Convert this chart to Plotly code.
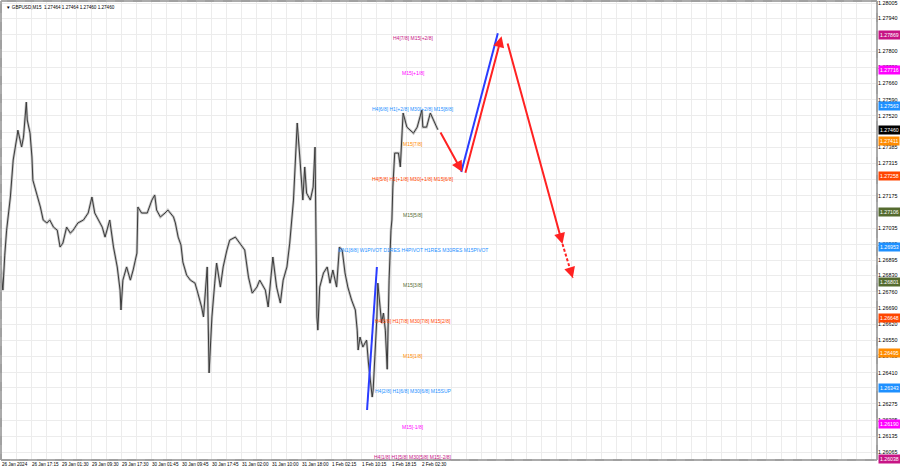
import plotly.graph_objects as go

# ---------------- data ----------------
bar_index = [0, 3, 5, 7, 11, 14, 18, 19, 23, 25, 28, 29, 32, 34, 35, 39, 43, 46, 50, 53,
             57, 61, 64, 67, 71, 75, 78, 83, 89, 94, 98, 101, 105, 109, 112, 117, 121, 125, 128, 129,
             131, 135, 139, 142, 146, 147, 151, 157, 162, 165, 167, 171, 176, 179, 185, 187, 190, 193, 195, 199,
             203, 208, 211, 215, 217, 221, 223, 226, 229, 231, 235, 238, 242, 245, 251, 256, 261, 265, 269, 274,
             277, 283, 286, 291, 295, 299, 302, 306, 309, 313, 316, 317, 320, 323, 325, 327, 331, 334, 336, 337,
             338, 339, 341, 345, 349, 352, 355, 359, 362, 365, 368, 371, 375, 379, 381, 382, 384, 387, 391, 393,
             395, 397, 398, 402, 403, 405, 407, 409, 411, 413, 414, 415, 417, 418, 419, 421, 425, 427, 429, 430,
             434, 437, 441, 445, 448, 450, 451, 455, 459, 461, 464, 467]
close_price = [1.26888, 1.26767, 1.26918, 1.27026, 1.27169, 1.27329, 1.27428, 1.27458, 1.27385, 1.27428,
               1.27579, 1.27502, 1.27445, 1.27342, 1.27242, 1.27186, 1.27126, 1.27070, 1.27057, 1.27070,
               1.27039, 1.27026, 1.26953, 1.26970, 1.27039, 1.27013, 1.27026, 1.27057, 1.27070, 1.27100,
               1.27169, 1.27100, 1.27070, 1.27039, 1.26996, 1.27070, 1.26953, 1.26867, 1.26767, 1.26681,
               1.26810, 1.26867, 1.26810, 1.26854, 1.26927, 1.27126, 1.27100, 1.27100, 1.27156, 1.27178,
               1.27113, 1.27083, 1.27100, 1.27113, 1.27083, 1.27057, 1.26996, 1.26962, 1.26888, 1.26832,
               1.26810, 1.26797, 1.26754, 1.26694, 1.26651, 1.26867, 1.26409, 1.26651, 1.26797, 1.26884,
               1.26780, 1.26867, 1.26940, 1.26983, 1.26996, 1.26970, 1.26940, 1.26823, 1.26754, 1.26780,
               1.26810, 1.26767, 1.26694, 1.26910, 1.26780, 1.26711, 1.26810, 1.26867, 1.26970, 1.27156,
               1.27402, 1.27489, 1.27329, 1.27156, 1.27299, 1.27186, 1.27156, 1.27212, 1.27385, 1.27013,
               1.26651, 1.26594, 1.26780, 1.26841, 1.26867, 1.26797, 1.26854, 1.26780, 1.26953, 1.26940,
               1.26841, 1.26780, 1.26724, 1.26681, 1.26594, 1.26508, 1.26564, 1.26521, 1.26551, 1.26452,
               1.26365, 1.26305, 1.26335, 1.26651, 1.26797, 1.26711, 1.26625, 1.26668, 1.26594, 1.26425,
               1.26651, 1.26810, 1.27026, 1.27070, 1.27212, 1.27359, 1.27359, 1.27299, 1.27458, 1.27532,
               1.27471, 1.27458, 1.27445, 1.27471, 1.27515, 1.27545, 1.27471, 1.27471, 1.27532, 1.27515,
               1.27489, 1.27460]

time_tick_pos = [2, 18, 34, 50, 66, 82, 98, 114, 130, 146, 162, 178, 194, 210, 226, 242, 258, 274,
                 290, 306, 322, 338, 354, 370, 386, 402, 418, 434, 450, 466, 482, 498, 514, 530, 546,
                 562, 578, 594, 610, 626, 642, 658, 674, 690, 706, 722, 738, 754, 770, 786, 802, 818,
                 834, 850, 866, 882, 898, 914, 930]
time_tick_text = ["26 Jan 2024", "", "26 Jan 17:15", "", "29 Jan 01:30", "", "29 Jan 09:30", "",
                  "29 Jan 17:30", "", "30 Jan 01:45", "", "30 Jan 09:45", "", "30 Jan 17:45", "",
                  "31 Jan 02:00", "", "31 Jan 10:00", "", "31 Jan 18:00", "", "1 Feb 02:15", "",
                  "1 Feb 10:15", "", "1 Feb 18:15", "", "2 Feb 02:30"] + [""] * 30

price_ticks = [1.28005, 1.27940, 1.27870, 1.27800, 1.27730, 1.27660, 1.27590, 1.27520, 1.27450,
               1.27385, 1.27315, 1.27245, 1.27175, 1.27105, 1.27035, 1.26965, 1.26895, 1.26830,
               1.26760, 1.26690, 1.26620, 1.26550, 1.26480, 1.26410, 1.26345, 1.26275, 1.26205,
               1.26135, 1.26065]
price_tick_text = ["1.28005", "1.27940", "", "1.27800", "1.27730", "1.27660", "1.27590", "1.27520", "",
                   "1.27385", "1.27315", "", "1.27175", "", "1.27035", "1.26965", "1.26895", "1.26830",
                   "1.26760", "1.26690", "1.26620", "1.26550", "1.26480", "1.26410", "", "1.26275",
                   "1.26205", "1.26135", "1.26065"]

level_price = [1.27869, 1.27716, 1.27563, 1.27411, 1.27258, 1.27106, 1.26953,
               1.26801, 1.26648, 1.26495, 1.26343, 1.26190, 1.26038]
level_box_text = ["1.27869", "1.27716", "1.27563", "1.27411", "1.27258", "1.27106", "1.26953",
                  "1.26801", "1.26648", "1.26495", "1.26343", "1.26190", "1.26038"]
level_label = ["H4[7/8] M15[+2/8]", "M15[+1/8]", "H4[6/8] H1[+2/8] M30[+2/8] M15[8/8]",
               "M15[7/8]", "H4[5/8] H1[+1/8] M30[+1/8] M15[6/8]", "M15[5/8]",
               "MN1[8/8] W1PIVOT D1RES H4PIVOT H1RES M30RES M15PIVOT",
               "M15[3/8]", "H4[3/8] H1[7/8] M30[7/8] M15[2/8]", "M15[1/8]",
               "H4[2/8] H1[6/8] M30[6/8] M15SUP", "M15[-1/8]",
               "H4[1/8] H1[5/8] M30[5/8] M15[-2/8]"]
level_kind = ["pp", "mg", "bl", "or", "rd", "ol", "piv", "ol", "rd", "or", "bl", "mg", "pp"]

current_price = 1.27460
header_text = "GBPUSD,M15  1.27464 1.27464 1.27460 1.27460"

blue1_bars, blue1_prices = [391.5, 402], [1.26249, 1.26867]
red1_bars, red1_prices = [469, 493], [1.27454, 1.27277]
blue2_bars, blue2_prices = [492, 531], [1.27277, 1.27877]
red2_bars, red2_prices = [496, 535], [1.27268, 1.27864]
red3_bars, red3_prices = [541, 600], [1.27839, 1.26966]
red4_bars, red4_prices = [600, 611], [1.26966, 1.26819]

# ---------------- styles ----------------
STYLE = {
    "pp": dict(line="#e8a6cf", dash="dash", width=1, box="#c71585", text="#c71585"),
    "mg": dict(line="#f6a6f6", dash="solid", width=1, box="#ff00ff", text="#ff00ff"),
    "bl": dict(line="#a9d2f7", dash="dash", width=1, box="#1e90ff", text="#1e90ff"),
    "or": dict(line="#fbd9ad", dash="dash", width=1, box="#ff8c00", text="#ff8c00"),
    "rd": dict(line="#f8b4a0", dash="dash", width=1, box="#ff4500", text="#ff4500"),
    "ol": dict(line="#cfcfbf", dash="dash", width=1, box="#556b2f", text="#556b2f"),
    "piv": dict(line="#8dc5f8", dash="solid", width=2, box="#1e90ff", text="#1e90ff"),
}
FONT = "Liberation Sans, Arial, sans-serif"
LABEL_X = 441
RED = "#ff2222"
BLUE = "#2a3cff"
Y_RANGE = [1.26033, 1.28016]
LBL = 5.0   # in-chart level label size
AX = 5.4    # axis label size
BOX = 5.2   # boxed price label size

fig = go.Figure()

# level lines
for p, k in zip(level_price, level_kind):
    s = STYLE[k]
    fig.add_hline(y=p, line=dict(color=s["line"], dash=s["dash"], width=s["width"]), layer="below")

# price series
fig.add_trace(go.Scatter(x=bar_index, y=close_price, mode="lines",
                         line=dict(color="#c4c4c4", width=2.6), hoverinfo="skip", showlegend=False))
fig.add_trace(go.Scatter(x=bar_index, y=close_price, mode="lines",
                         line=dict(color="#3a3a3a", width=1), showlegend=False))

# level labels in chart
for p, t, k in zip(level_price, level_label, level_kind):
    near_bottom = (p - Y_RANGE[0]) < 0.0001
    fig.add_annotation(x=LABEL_X, y=p, text=t, showarrow=False, xanchor="center",
                       yanchor="middle", yshift=(2 if near_bottom else -3),
                       font=dict(family=FONT, size=LBL, color=STYLE[k]["text"]))

# boxed price labels on right axis
for p, t, k in zip(level_price, level_box_text, level_kind):
    fig.add_annotation(xref="paper", x=1.0, y=p, text=t, showarrow=False, xanchor="left",
                       yanchor="middle", xshift=1, bgcolor=STYLE[k]["box"], borderpad=1,
                       font=dict(family=FONT, size=BOX, color="white"))
fig.add_annotation(xref="paper", x=1.0, y=current_price, text=f"{current_price:.5f}",
                   showarrow=False, xanchor="left", yanchor="middle", xshift=1,
                   bgcolor="#000000", borderpad=1, font=dict(family=FONT, size=BOX, color="white"))

# forecast lines
for bx, py in [(blue1_bars, blue1_prices), (blue2_bars, blue2_prices)]:
    fig.add_trace(go.Scatter(x=bx, y=py, mode="lines", line=dict(color=BLUE, width=2),
                             showlegend=False, hoverinfo="skip"))
for bx, py in [(red1_bars, red1_prices), (red2_bars, red2_prices), (red3_bars, red3_prices)]:
    fig.add_annotation(x=bx[1], y=py[1], ax=bx[0], ay=py[0], xref="x", yref="y",
                       axref="x", ayref="y", showarrow=True, arrowhead=2, arrowsize=1.1,
                       arrowwidth=2, arrowcolor=RED, text="")
fig.add_trace(go.Scatter(x=red4_bars, y=red4_prices, mode="lines",
                         line=dict(color=RED, width=2, dash="3px,2px"),
                         showlegend=False, hoverinfo="skip"))
fig.add_annotation(x=red4_bars[1], y=red4_prices[1],
                   ax=red4_bars[1] - 0.15 * (red4_bars[1] - red4_bars[0]),
                   ay=red4_prices[1] - 0.15 * (red4_prices[1] - red4_prices[0]),
                   xref="x", yref="y", axref="x", ayref="y", showarrow=True, arrowhead=2,
                   arrowsize=1.1, arrowwidth=2, arrowcolor=RED, text="")

# header
fig.add_annotation(xref="paper", yref="paper", x=0.0, y=1.0, xshift=3, yshift=-2,
                   xanchor="left", yanchor="top", showarrow=False,
                   text="▼ " + header_text, font=dict(family=FONT, size=4.6, color="#000000"))

fig.update_layout(
    width=900, height=468,
    margin=dict(l=1, r=23, t=1, b=8, autoexpand=False),
    paper_bgcolor="white", plot_bgcolor="white",
    showlegend=False,
    xaxis=dict(range=[1, 935.5], tickmode="array", tickvals=time_tick_pos,
               ticktext=time_tick_text, showgrid=True, gridcolor="#ececec", gridwidth=1,
               zeroline=False, showline=False, ticks="", ticklabelposition="outside right",
               tickangle=0, automargin=False, ticklen=0,
               tickfont=dict(family=FONT, size=4.6, color="#000000"), fixedrange=True),
    yaxis=dict(range=Y_RANGE, side="right", tickmode="array", tickvals=price_ticks,
               ticktext=price_tick_text, showgrid=True, gridcolor="#ececec",
               zeroline=False, showline=False, ticks="", automargin=False,
               tickfont=dict(family=FONT, size=AX, color="#000000"), fixedrange=True),
    shapes=[dict(type="rect", xref="paper", yref="paper", x0=0, x1=1, y0=0, y1=1,
                 line=dict(color="#a0a0a0", width=1), layer="above")],
)

fig.write_html("out.html", config={"displayModeBar": False},
               post_script="document.body.style.margin='0';document.body.style.overflow='hidden';")
